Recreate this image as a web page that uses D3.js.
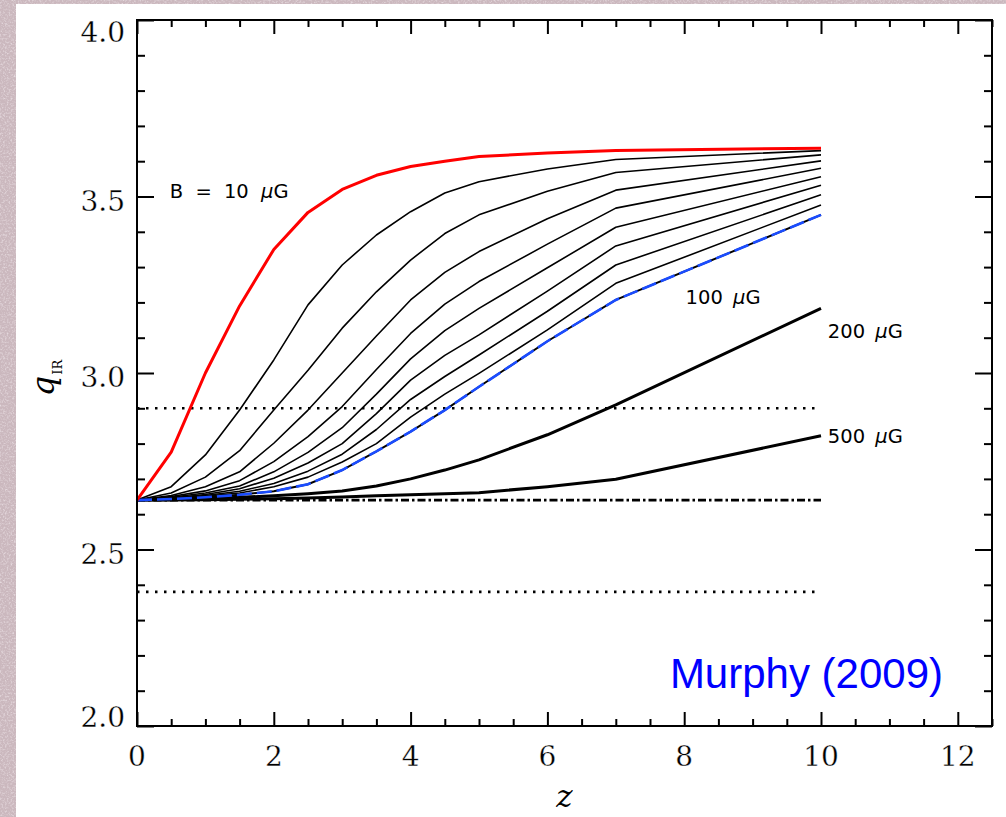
<!DOCTYPE html>
<html><head><meta charset="utf-8">
<script src="https://cdn.jsdelivr.net/npm/d3@7"></script>
<style>
html,body{margin:0;padding:0;background:#cdb9c0;}
svg{display:block}
</style></head><body>
<svg id="chart" width="1006" height="817"></svg>
<script>
// ---------------- DATA ----------------
const zValues = [0, 0.5, 1, 1.5, 2, 2.5, 3, 3.5, 4, 4.5, 5, 6, 7, 10];
const q_B10  = [2.64, 2.776, 3.000, 3.190, 3.350, 3.455, 3.520, 3.560, 3.585, 3.600, 3.613, 3.623, 3.630, 3.637];
const q_B20  = [2.64, 2.678, 2.768, 2.895, 3.037, 3.193, 3.306, 3.391, 3.457, 3.510, 3.542, 3.578, 3.605, 3.630];
const q_B30  = [2.64, 2.660, 2.705, 2.780, 2.895, 3.008, 3.127, 3.230, 3.320, 3.395, 3.448, 3.515, 3.568, 3.618];
const q_B40  = [2.64, 2.653, 2.678, 2.720, 2.801, 2.895, 3.000, 3.105, 3.207, 3.285, 3.344, 3.437, 3.518, 3.601];
const q_B50  = [2.64, 2.650, 2.666, 2.695, 2.749, 2.820, 2.905, 3.010, 3.112, 3.195, 3.259, 3.365, 3.467, 3.580];
const q_B60  = [2.64, 2.648, 2.660, 2.680, 2.720, 2.775, 2.845, 2.940, 3.040, 3.120, 3.183, 3.298, 3.413, 3.556];
const q_B70  = [2.64, 2.646, 2.656, 2.672, 2.702, 2.745, 2.800, 2.885, 2.980, 3.050, 3.108, 3.232, 3.360, 3.532];
const q_B80  = [2.64, 2.645, 2.653, 2.665, 2.687, 2.722, 2.770, 2.840, 2.925, 2.990, 3.051, 3.175, 3.306, 3.505];
const q_B90  = [2.64, 2.644, 2.651, 2.660, 2.678, 2.705, 2.748, 2.800, 2.875, 2.940, 2.999, 3.122, 3.254, 3.476];
const q_B100 = [2.64, 2.643, 2.648, 2.655, 2.665, 2.685, 2.725, 2.778, 2.834, 2.895, 2.961, 3.090, 3.207, 3.448];
const q_B200 = [2.64, 2.641, 2.644, 2.648, 2.652, 2.658, 2.666, 2.680, 2.700, 2.725, 2.754, 2.825, 2.910, 3.183];
const q_B500 = [2.64, 2.640, 2.641, 2.642, 2.644, 2.646, 2.649, 2.652, 2.655, 2.658, 2.661, 2.678, 2.699, 2.822];
const thinSeries = [q_B20, q_B30, q_B40, q_B50, q_B60, q_B70, q_B80, q_B90];
const thickSeries = [q_B200, q_B500];
const qRefLevel = 2.64;          // dash-dot line
const dottedLevels = [2.9, 2.38]; // dotted lines
const lineRange = [0, 10];
const xMajorTicks = [0, 2, 4, 6, 8, 10, 12];
const xTickLabels = ["0", "2", "4", "6", "8", "10", "12"];
const yMajorTicks = [2.0, 2.5, 3.0, 3.5, 4.0];
const yTickLabels = ["2.0", "2.5", "3.0", "3.5", "4.0"];
const curveLabels = [
  {text: "B = 10 ", z: 0.48, q: 3.496, ws: 6},
  {text: "100 ", z: 8.02, q: 3.195, ws: 4},
  {text: "200 ", z: 10.1, q: 3.099, ws: 4},
  {text: "500 ", z: 10.1, q: 2.802, ws: 4}
];

// ---------------- LAYOUT ----------------
const svg = d3.select("#chart");
const W = 1006, H = 817;
const L = 137, R = 992, T = 20, B = 726;
const x = d3.scaleLinear().domain([0, 12.5]).range([L, R]);
const y = d3.scaleLinear().domain([2.0, 4.0]).range([B, T]);

// background texture
const defs = svg.append("defs");
const f = defs.append("filter").attr("id", "noise").attr("x", 0).attr("y", 0).attr("width", "100%").attr("height", "100%");
f.append("feTurbulence").attr("type", "fractalNoise").attr("baseFrequency", 0.55).attr("numOctaves", 2).attr("seed", 7).attr("result", "n");
f.append("feColorMatrix").attr("in", "n").attr("type", "matrix")
  .attr("values", "0 0 0 0 0.95  0 0 0 0 0.9  0 0 0 0 0.93  1.4 0 0 0 -0.65");
svg.append("rect").attr("width", W).attr("height", H).attr("fill", "#cbb8be");
svg.append("rect").attr("width", W).attr("height", H).attr("filter", "url(#noise)");
// white panel
svg.append("rect").attr("x", 16).attr("y", 4).attr("width", W - 16).attr("height", H - 4).attr("fill", "#fff");

const line = d3.line().x(d => x(d[0])).y(d => y(d[1]));
const pts = arr => zValues.map((z, i) => [z, arr[i]]);
const g = svg.append("g");

// dotted reference lines
dottedLevels.forEach(v => {
  g.append("path").attr("d", line(lineRange.map(z => [z, v])))
    .attr("fill", "none").attr("stroke", "#000").attr("stroke-width", 2.6)
    .attr("stroke-dasharray", "2.5,6.5");
});
// dash-dot line
g.append("path").attr("d", line(lineRange.map(z => [z, qRefLevel])))
  .attr("fill", "none").attr("stroke", "#000").attr("stroke-width", 2.6)
  .attr("stroke-dasharray", "8,3,2.5,3");

// thick lines
thickSeries.forEach(s => {
  g.append("path").attr("d", line(pts(s))).attr("fill", "none")
    .attr("stroke", "#000").attr("stroke-width", 3).attr("stroke-linejoin", "round");
});
// thin lines
thinSeries.forEach(s => {
  g.append("path").attr("d", line(pts(s))).attr("fill", "none")
    .attr("stroke", "#000").attr("stroke-width", 1.6).attr("stroke-linejoin", "round");
});
// 100 muG: black underneath, blue dashes on top
g.append("path").attr("d", line(pts(q_B100))).attr("fill", "none")
  .attr("stroke", "#000").attr("stroke-width", 2);
g.append("path").attr("d", line(pts(q_B100))).attr("fill", "none")
  .attr("stroke", "#1a4cff").attr("stroke-width", 2.6).attr("stroke-dasharray", "15,5");
// red 10 muG
g.append("path").attr("d", line(pts(q_B10))).attr("fill", "none")
  .attr("stroke", "#ff0000").attr("stroke-width", 3).attr("stroke-linejoin", "round");

// ---------------- AXES ----------------
const axisW = 2;
const xMinor = d3.range(0, 12.51, 0.5).filter(v => xMajorTicks.indexOf(v) < 0);
const yMinor = d3.range(20, 40.1, 1).map(v => v / 10).filter(v => yMajorTicks.indexOf(v) < 0);
function styleAxis(sel) {
  sel.select(".domain").remove();
  sel.selectAll(".tick line").attr("stroke", "#000").attr("stroke-width", axisW);
  sel.selectAll(".tick text").remove();
}
// bottom & top
svg.append("g").attr("transform", `translate(0,${B})`)
  .call(d3.axisBottom(x).tickValues(xMajorTicks).tickSize(-14)).call(styleAxis);
svg.append("g").attr("transform", `translate(0,${B})`)
  .call(d3.axisBottom(x).tickValues(xMinor).tickSize(-7)).call(styleAxis);
svg.append("g").attr("transform", `translate(0,${T})`)
  .call(d3.axisTop(x).tickValues(xMajorTicks).tickSize(-14)).call(styleAxis);
svg.append("g").attr("transform", `translate(0,${T})`)
  .call(d3.axisTop(x).tickValues(xMinor).tickSize(-7)).call(styleAxis);
// left & right
svg.append("g").attr("transform", `translate(${L},0)`)
  .call(d3.axisLeft(y).tickValues(yMajorTicks).tickSize(-17)).call(styleAxis);
svg.append("g").attr("transform", `translate(${L},0)`)
  .call(d3.axisLeft(y).tickValues(yMinor).tickSize(-8)).call(styleAxis);
svg.append("g").attr("transform", `translate(${R},0)`)
  .call(d3.axisRight(y).tickValues(yMajorTicks).tickSize(-17)).call(styleAxis);
svg.append("g").attr("transform", `translate(${R},0)`)
  .call(d3.axisRight(y).tickValues(yMinor).tickSize(-8)).call(styleAxis);
// frame
svg.append("rect").attr("x", L).attr("y", T).attr("width", R - L).attr("height", B - T)
  .attr("fill", "none").attr("stroke", "#000").attr("stroke-width", axisW);

const serif = "'DejaVu Serif', serif";
// x tick labels
svg.append("g").selectAll("text").data(xMajorTicks).join("text")
  .attr("x", d => x(d)).attr("y", 766)
  .attr("text-anchor", "middle").attr("font-family", serif).attr("font-size", 28)
  .attr("fill", "#000").attr("stroke", "#fff").attr("stroke-width", 0.3)
  .text((d, i) => xTickLabels[i]);
// y tick labels
svg.append("g").selectAll("text").data(yMajorTicks).join("text")
  .attr("x", 125).attr("y", d => Math.min(B - 9, Math.max(T + 12, y(d) + 4)))
  .attr("dy", "0.36em")
  .attr("text-anchor", "end").attr("font-family", serif).attr("font-size", 28)
  .attr("fill", "#000").attr("stroke", "#fff").attr("stroke-width", 0.3)
  .text((d, i) => yTickLabels[i]);

// axis titles
svg.append("text").attr("x", (x(0) + x(12.5)) / 2 - 0).attr("y", 807)
  .attr("text-anchor", "middle").attr("font-family", serif).attr("font-style", "italic")
  .attr("font-size", 31).attr("fill", "#000").text("z");
const yt = svg.append("text").attr("transform", "translate(54,378) rotate(-90)")
  .attr("text-anchor", "middle").attr("font-family", serif).attr("fill", "#000");
yt.append("tspan").attr("font-style", "italic").attr("font-size", 32).text("q");
yt.append("tspan").attr("font-size", 13).attr("dy", 8).attr("dx", 1).text("IR");

// curve labels
const sans = "'DejaVu Sans', sans-serif";
curveLabels.forEach(c => {
  const t = svg.append("text").attr("x", x(c.z)).attr("y", y(c.q))
    .attr("font-family", sans).attr("font-size", 19.5).attr("fill", "#000")
    .attr("style", `white-space:pre;word-spacing:${c.ws}px`);
  t.append("tspan").text(c.text);
  t.append("tspan").attr("font-style", "italic").text("\u03bc");
  t.append("tspan").text("G");
});

// credit
svg.append("text").attr("x", 943).attr("y", 688).attr("text-anchor", "end")
  .attr("font-family", "'Liberation Sans', Arial, sans-serif").attr("font-size", 42)
  .attr("fill", "#0000ff").text("Murphy (2009)");
</script>
</body></html>
